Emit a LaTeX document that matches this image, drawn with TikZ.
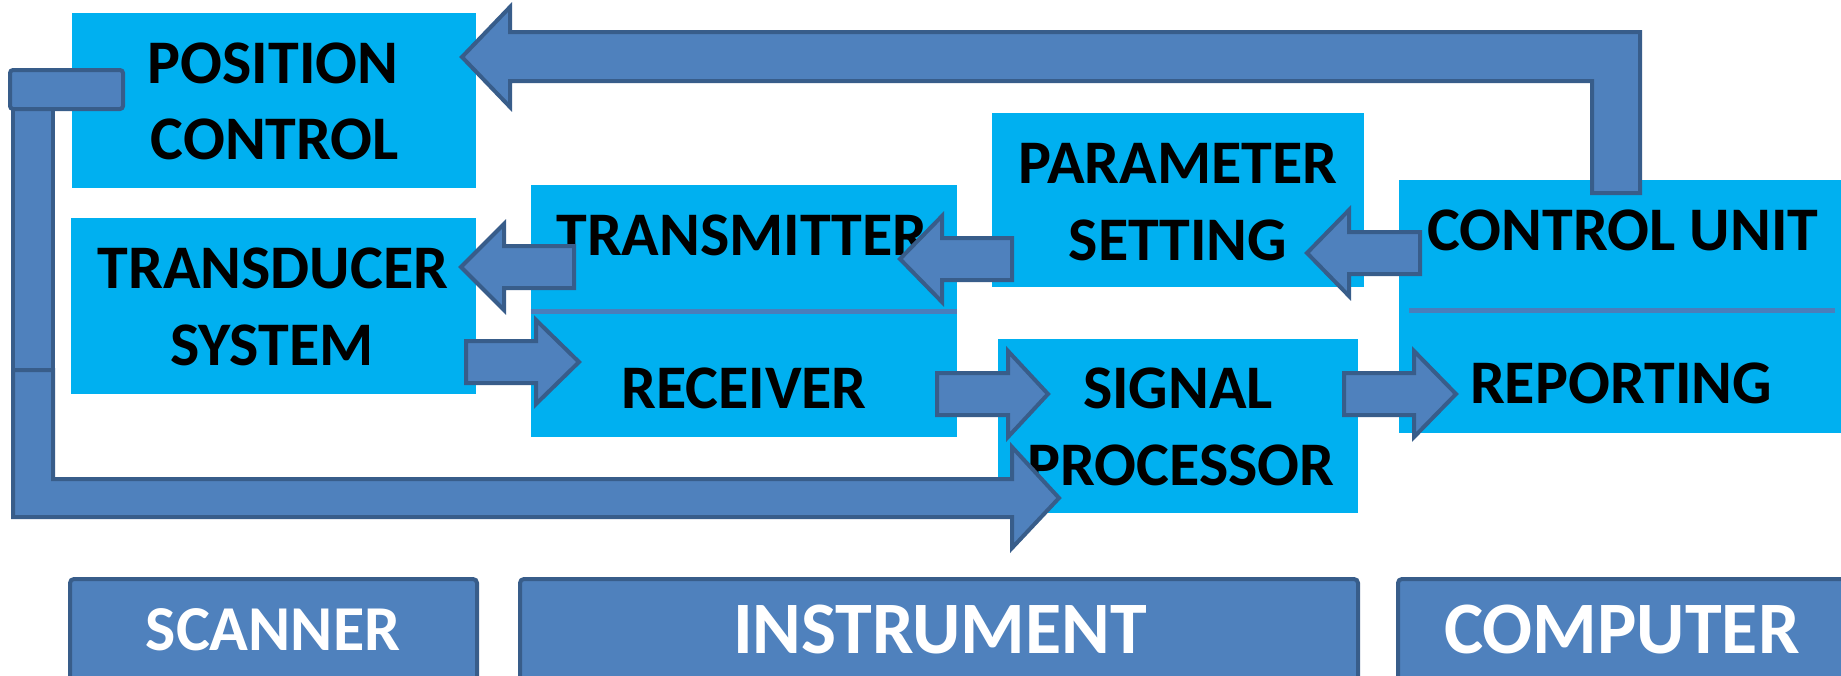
\documentclass[tikz,border=0pt]{standalone}
\usepackage{fontspec}
\setmainfont{Carlito}
\usetikzlibrary{fit}
\definecolor{panelblue}{HTML}{00B0F0}
\definecolor{blockfill}{HTML}{4F81BD}
\definecolor{blockline}{HTML}{385D8A}
\definecolor{rulecol}{HTML}{4A7EBB}

% straight block arrow: start x, head base x, tip x, centre y, shaft half width, head half width
\newcommand\blockarrowH[6]{%
  \filldraw[blockarrow] (#1,#4-#5) -- (#2,#4-#5) -- (#2,#4-#6) -- (#3,#4)
    -- (#2,#4+#6) -- (#2,#4+#5) -- (#1,#4+#5) -- cycle;}

\begin{document}
\begin{tikzpicture}[x=0.5pt, y=-0.5pt,
  panel/.style={fill=panelblue, draw=none, inner sep=0pt},
  tag/.style={fill=blockfill, draw=blockline, line width=2pt, rounded corners=2pt, inner sep=0pt},
  blockarrow/.style={fill=blockfill, draw=blockline, line width=2pt, line join=miter},
  divider/.style={draw=rulecol, line width=2.5pt},
  lbl/.style={anchor=base, inner sep=0pt, text=black,
    font=\bfseries\fontsize{31}{37}\selectfont},
  taglbl/.style={anchor=base, inner sep=0pt, text=white,
    font=\bfseries\fontsize{37}{44}\selectfont},
]
\useasboundingbox (0,0) rectangle (1841,675);
\clip (0,0) rectangle (1841,675);
\fill[white] (0,0) rectangle (1841,675);

% function panels
\node[panel, fit={(72,13) (476,188)}]   (pos)  {};
\node[panel, fit={(71,218) (476,394)}]  (trd)  {};
\node[panel, fit={(531,185) (957,437)}] (txrx) {};
\node[panel, fit={(992,113) (1364,287)}] (par) {};
\node[panel, fit={(998,339) (1358,513)}] (sig) {};
\node[panel, fit={(1399,180) (1842,433)}] (cu) {};

\draw[divider] (txrx.west) -- (txrx.east);
\draw[divider] (1409,310) -- (1835,310);

% panel captions
\node[lbl] (pos-a) at (273,83)  {POSITION};
\node[lbl] (pos-b) at (275,159) {CONTROL};
\node[lbl] (trd-a) at (273,288) {TRANSDUCER};
\node[lbl] (trd-b) at (272,365) {SYSTEM};
\node[lbl] (tx)    at (742,255) {TRANSMITTER};
\node[lbl] (rx)    at (744,408) {RECEIVER};
\node[lbl] (par-a) at (1178,183) {PARAMETER};
\node[lbl] (par-b) at (1178,260) {SETTING};
\node[lbl] (sig-a) at (1178,408) {SIGNAL};
\node[lbl] (sig-b) at (1181,485) {PROCESSOR};
\node[lbl] (cu-a)  at (1623,250) {CONTROL UNIT};
\node[lbl] (rep)   at (1621,403) {REPORTING};

% control unit back to position control
\filldraw[blockarrow] (1592,193) -- (1592,81) -- (510,81) -- (510,107) -- (462,57)
  -- (510,7) -- (510,32) -- (1640,32) -- (1640,193) -- cycle;

% signal chain
\blockarrowH{1420}{1349}{1307}{253}{21}{43}
\blockarrowH{1012}{942}{900}{259}{21}{43}
\blockarrowH{574}{504}{461}{267}{21}{43}
\blockarrowH{466}{536}{579}{362}{21}{42}
\blockarrowH{937}{1008}{1048}{394}{21}{43}
\blockarrowH{1344}{1414}{1456}{394}{21}{43}

% scanner position feed to the signal processor
\filldraw[blockarrow] (13,109) rectangle (53,370);
\filldraw[blockarrow] (13,370) -- (53,370) -- (53,479) -- (1012,479) -- (1012,447)
  -- (1059,498) -- (1012,548) -- (1012,517) -- (13,517) -- cycle;
\filldraw[blockarrow, rounded corners=1.5pt] (10,70) rectangle (123,109);

% section tags
\node[tag, fit={(70,579) (477,700)}]    (scanner)    {};
\node[tag, fit={(520,579) (1358,700)}]  (instrument) {};
\node[tag, fit={(1398,579) (1880,700)}] (computer)   {};
\node[taglbl, font=\bfseries\fontsize{32}{38}\selectfont] (scanner-t) at (273,650) {SCANNER};
\node[taglbl] (instrument-t) at (940,653)  {INSTRUMENT};
\node[taglbl] (computer-t)   at (1622,653) {COMPUTER};
\end{tikzpicture}
\end{document}
